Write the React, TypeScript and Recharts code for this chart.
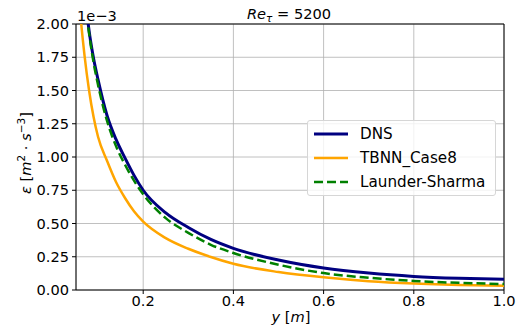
import React from "react";
import {
  LineChart,
  Line,
  XAxis,
  YAxis,
  CartesianGrid,
  ReferenceLine,
} from "recharts";

// wall distance y [m]
const yPos = [0.055, 0.06, 0.07, 0.08, 0.09, 0.1, 0.12, 0.14, 0.16, 0.18, 0.2, 0.25, 0.3, 0.35, 0.4, 0.5, 0.6, 0.7, 0.8, 0.9, 1.0];
// dissipation, in units of 1e-3 m^2 s^-3
const epsDns = [3.0, 2.7, 2.25, 1.95, 1.74, 1.58, 1.31, 1.13, 0.99, 0.86, 0.75, 0.58, 0.47, 0.38, 0.313, 0.225, 0.165, 0.127, 0.102, 0.088, 0.08];
const epsTbnn = [2.32, 2.1, 1.76, 1.5, 1.3, 1.15, 0.97, 0.81, 0.69, 0.59, 0.514, 0.39, 0.31, 0.248, 0.197, 0.135, 0.095, 0.066, 0.048, 0.037, 0.032];
const epsLs = [2.95, 2.65, 2.22, 1.93, 1.71, 1.54, 1.27, 1.08, 0.94, 0.82, 0.72, 0.54, 0.43, 0.34, 0.278, 0.19, 0.127, 0.092, 0.068, 0.054, 0.045];

const xTicks = [0.2, 0.4, 0.6, 0.8, 1.0];
const yTicks = [0, 0.25, 0.5, 0.75, 1.0, 1.25, 1.5, 1.75, 2.0];

const series = [
  { key: "dns", name: "DNS", color: "#000080", dash: undefined, width: 3 },
  { key: "tbnn", name: "TBNN_Case8", color: "#ffa500", dash: undefined, width: 2.5 },
  { key: "ls", name: "Launder-Sharma", color: "#008000", dash: "9 4", width: 2.5 },
];

const data = yPos.map((y, i) => ({ y, dns: epsDns[i], tbnn: epsTbnn[i], ls: epsLs[i] }));

const FONT = "DejaVu Sans, sans-serif";
const FS = 14.6;

function LegendBox() {
  return (
    <div
      style={{
        position: "absolute",
        left: 307,
        top: 120,
        width: 176,
        border: "1px solid #d6d6d6",
        borderRadius: 3,
        background: "rgba(255,255,255,0.8)",
        padding: "1px 6px 1px 5px",
        fontFamily: FONT,
        fontSize: 15.2,
        color: "#000",
      }}
    >
      {series.map((s) => (
        <div key={s.key} style={{ display: "flex", alignItems: "center", height: 24, whiteSpace: "nowrap" }}>
          <svg width={36} height={10} style={{ marginRight: 11 }}>
            <line x1={1} y1={5} x2={35} y2={5} stroke={s.color} strokeWidth={s.width} strokeDasharray={s.dash} />
          </svg>
          <span>{s.name}</span>
        </div>
      ))}
    </div>
  );
}

export default function App() {
  return (
    <div style={{ position: "absolute", left: 0, top: 0, width: 524, height: 334, background: "#fff" }}>
      <LineChart width={524} height={334} data={data} margin={{ top: 24, right: 20, bottom: 14, left: 16 }}>
        <CartesianGrid stroke="#b0b0b0" strokeWidth={0.8} />
        <XAxis
          type="number"
          dataKey="y"
          domain={[0.051, 1.0]}
          allowDataOverflow
          ticks={xTicks}
          tickFormatter={(v: number) => v.toFixed(1)}
          height={30}
          tickSize={4}
          tickMargin={2}
          stroke="#000"
          tick={{ fill: "#000", fontSize: FS, fontFamily: FONT }}
        />
        <YAxis
          type="number"
          domain={[0, 2]}
          allowDataOverflow
          ticks={yTicks}
          tickFormatter={(v: number) => v.toFixed(2)}
          width={60}
          tickSize={4}
          tickMargin={3}
          stroke="#000"
          tick={{ fill: "#000", fontSize: FS, fontFamily: FONT }}
        />
        <ReferenceLine y={2} stroke="#000" strokeWidth={1} />
        <ReferenceLine x={1} stroke="#000" strokeWidth={1} />
        {series.map((s) => (
          <Line
            key={s.key}
            type="monotone"
            dataKey={s.key}
            name={s.name}
            stroke={s.color}
            strokeWidth={s.width}
            strokeDasharray={s.dash}
            dot={false}
            isAnimationActive={false}
          />
        ))}
      </LineChart>
      <LegendBox />
      <svg
        width={524}
        height={334}
        style={{ position: "absolute", left: 0, top: 0, pointerEvents: "none" }}
        fontFamily={FONT}
        fontSize={FS}
      >
        <text x={289} y={18.5} textAnchor="middle">
          <tspan fontStyle="italic">Re</tspan>
          <tspan fontStyle="italic" fontSize={10.5} dy={3}>τ</tspan>
          <tspan dy={-3}> = 5200</tspan>
        </text>
        <text x={77} y={21}>1e−3</text>
        <text x={291} y={322} textAnchor="middle">
          <tspan fontStyle="italic">y</tspan> [<tspan fontStyle="italic">m</tspan>]
        </text>
        <text transform="translate(31,153) rotate(-90)" textAnchor="middle">
          <tspan fontStyle="italic">ε</tspan> [<tspan fontStyle="italic">m</tspan>
          <tspan fontSize={10.5} dy={-6}>2</tspan>
          <tspan dy={6}> · </tspan>
          <tspan fontStyle="italic">s</tspan>
          <tspan fontSize={10.5} dy={-6}>−3</tspan>
          <tspan dy={6}>]</tspan>
        </text>
      </svg>
    </div>
  );
}
